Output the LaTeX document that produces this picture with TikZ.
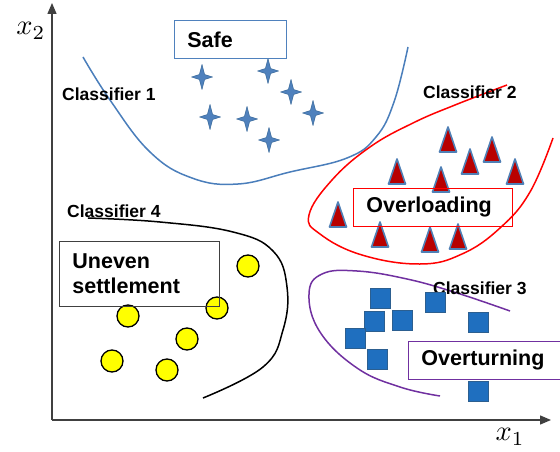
\documentclass[tikz,border=0pt]{standalone}
\usepackage{fontspec}
\setmainfont{Liberation Sans}
\usetikzlibrary{shapes.geometric,arrows.meta}
\definecolor{axisgray}{HTML}{404040}
\definecolor{starblue}{HTML}{4F81BD}
\definecolor{stardark}{HTML}{3A6A9A}
\definecolor{curveblue}{HTML}{4A7EBB}
\definecolor{tred}{HTML}{B80000}
\definecolor{tblue}{HTML}{4F7FB5}
\definecolor{sqblue}{HTML}{1F6FBF}
\definecolor{sqdark}{HTML}{2C5F90}
\definecolor{cpurple}{HTML}{7030A0}
\definecolor{cyellow}{HTML}{FFFF00}
\tikzset{
  axisline/.style={draw=axisgray, line width=1.3pt, -{Triangle[length=11pt,width=9pt]}},
  starmark/.style={fill=starblue, draw=stardark, line width=0.5pt, line join=round},
  trimark/.style={fill=tred, draw=tblue, line width=1.6pt, line join=round},
  sqmark/.style={rectangle, minimum size=20pt, inner sep=0pt, fill=sqblue, draw=sqdark, line width=0.6pt},
  circmark/.style={circle, minimum size=22pt, inner sep=0pt, fill=cyellow, draw=black, line width=1.3pt},
  clabel/.style={font=\bfseries\fontsize{17.5}{20}\selectfont, inner sep=0pt, anchor=base west},
  bigbox/.style={font=\bfseries\fontsize{21.5}{25}\selectfont, anchor=north west, align=left, inner xsep=13pt, inner ysep=0pt, line width=0.8pt},
  axlabel/.style={inner sep=0pt},
  boundary/.style={line width=1.5pt, smooth, tension=0.7}
}
\newcommand\trimk[2]{\draw[trimark] (#1,#2) ++(-8.5,12) -- ++(8.5,-25) -- ++(8.5,25) -- cycle;}
\newcommand\starmk[2]{\draw[starmark] (#1,#2) ++(0,-12.5) -- ++(2.6,10) -- ++(7.9,2.5) -- ++(-7.9,2.5) -- ++(-2.6,10) -- ++(-2.6,-10) -- ++(-7.9,-2.5) -- ++(7.9,-2.5) -- cycle;}
\begin{document}
\begin{tikzpicture}[x=1pt,y=-1pt]
\useasboundingbox (0,0) rectangle (560,452);
% axes
\coordinate (origin) at (52,420);
\coordinate (ytip) at (52,3);
\coordinate (xtip) at (551,420);
\draw[axisline] (origin) -- (ytip);
\draw[axisline] (origin) -- (xtip);
\node[axlabel] (xtwo) at (31,31) {\resizebox{29pt}{!}{$x_2$}};
\node[axlabel] (xone) at (510,437) {\resizebox{29pt}{!}{$x_1$}};

% classifier boundaries
\draw[boundary, curveblue] plot coordinates {(83,57) (110,100) (150,152) (192,178) (238,184) (290,172) (347,158) (376,137) (394,102) (408,47)};
\draw[boundary, red] plot coordinates {(507,85) (455,105) (413,123) (370,147) (332,180) (309,215) (320,234) (362,255) (420,264) (462,254) (500,228) (530,192) (553,138)};
\draw[boundary, cpurple] plot coordinates {(510,311) (457,293) (407,279) (357,271) (322,274) (309,294) (320,332) (357,368) (400,387) (440,396)};
\draw[boundary, black] plot coordinates {(88,218) (160,222) (233,232) (273,251) (287,287) (283,330) (263,367) (203,398)};

% classifier labels
\node[clabel] (c1) at (62,100) {Classifier 1};
\node[clabel] (c2) at (423,99) {Classifier 2};
\node[clabel] (c3) at (433,294) {Classifier 3};
\node[clabel] (c4) at (67,217) {Classifier 4};

% safe stars
\foreach \a/\b in {202/77,268/71,291/92,313/113,210/117,247/119,269/140}
  {\starmk{\a}{\b}}

% overloading triangles
\foreach \a/\b in {448/140,470/162,492/150,515/172,397/172,441/180,338/215,380/235,430/240,458/237}
  {\trimk{\a}{\b}}

% overturning squares
\foreach \p [count=\i] in {(380,298),(435,302),(374,321),(402,320),(478,322),(355,338),(377,359),(478,391)}
  \node[sqmark] (q\i) at \p {};

% uneven settlement circles
\foreach \p [count=\i] in {(248,266),(217,308),(128,316),(187,339),(112,361),(167,370)}
  \node[circmark] (o\i) at \p {};

% label boxes
\node[bigbox, draw=starblue, minimum width=112pt, minimum height=38pt, text width=86pt] (safe) at (174,20) {Safe};
\node[bigbox, draw=red, minimum width=159pt, minimum height=38pt, text width=133pt] (over) at (353,188) {Overloading};
\node[bigbox, draw=axisgray, minimum width=160pt, minimum height=65pt, text width=134pt] (uneven) at (59,241) {Uneven\\settlement};
\node[bigbox, draw=cpurple, minimum width=160pt, minimum height=38pt, text width=134pt] (turn) at (408,341) {Overturning};
\end{tikzpicture}
\end{document}
